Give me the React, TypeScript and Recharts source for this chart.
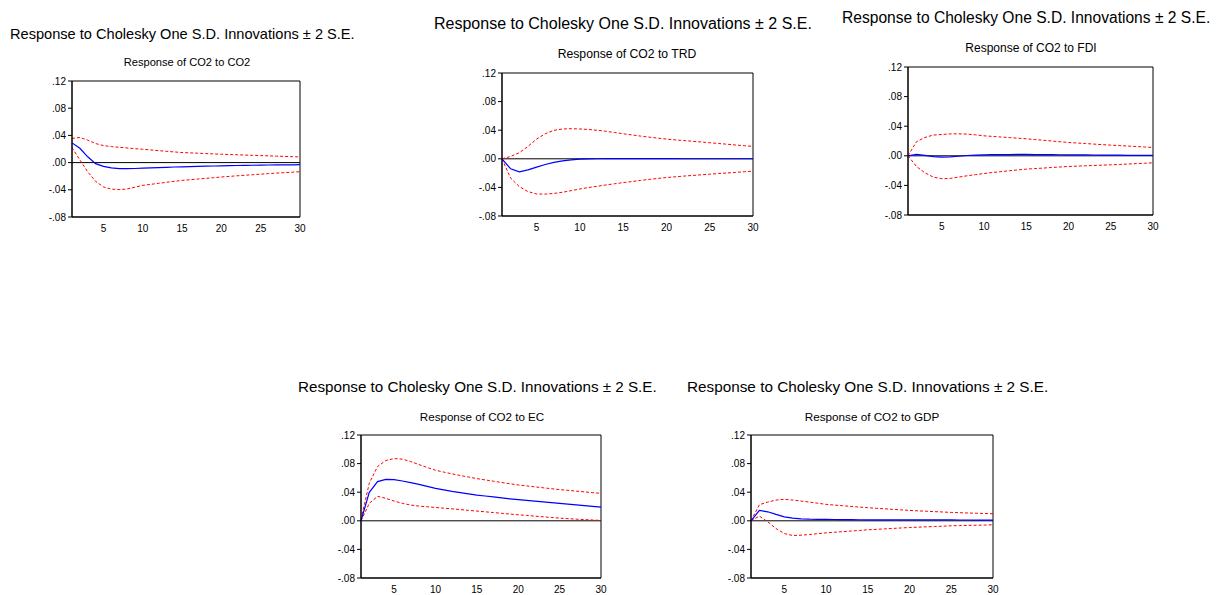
import React from 'react';
import { LineChart, Line, XAxis, YAxis, ReferenceLine, ReferenceArea } from 'recharts';

const periods = Array.from({ length: 30 }, (_, i) => i + 1);
const xTicks = [5, 10, 15, 20, 25, 30];
const yTicks = [-0.08, -0.04, 0, 0.04, 0.08, 0.12];
const mainTitle = 'Response to Cholesky One S.D. Innovations \u00b1 2 S.E.';

// Response of CO2 to CO2
const co2Resp = [0.029, 0.021, 0.0085, -0.0015, -0.0055, -0.0078, -0.0088, -0.009, -0.0087, -0.0082, -0.0078, -0.0073, -0.0069, -0.0065, -0.0062, -0.0059, -0.0056, -0.0053, -0.005, -0.0047, -0.0045, -0.0043, -0.0041, -0.0039, -0.0037, -0.0035, -0.0034, -0.0033, -0.0032, -0.0031];
const co2Up = [0.0355, 0.037, 0.033, 0.028, 0.025, 0.0235, 0.0225, 0.0215, 0.0205, 0.0196, 0.0186, 0.0176, 0.0166, 0.0157, 0.0148, 0.0143, 0.0138, 0.0133, 0.0128, 0.0123, 0.0119, 0.0115, 0.0111, 0.0107, 0.0103, 0.0099, 0.0095, 0.0091, 0.0087, 0.0083];
const co2Lo = [0.022, 0.004, -0.0135, -0.0275, -0.0358, -0.039, -0.0397, -0.0388, -0.0362, -0.0335, -0.032, -0.0305, -0.029, -0.0275, -0.0262, -0.0252, -0.0242, -0.0232, -0.0222, -0.0212, -0.0203, -0.0194, -0.0186, -0.0178, -0.017, -0.0162, -0.0155, -0.0148, -0.0141, -0.0134];

// Response of CO2 to TRD
const trdResp = [0, -0.014, -0.0183, -0.0155, -0.0117, -0.008, -0.005, -0.0028, -0.0014, -0.0005, -0.0001, 0.0001, 0.0002, 0.0002, 0.0002, 0.0002, 0.0002, 0.0002, 0.0002, 0.0002, 0.0002, 0.0001, 0.0001, 0.0001, 0.0001, 0.0001, 0.0001, 0.0001, 0.0001, 0.0001];
const trdUp = [0, 0.0033, 0.0085, 0.0173, 0.0276, 0.035, 0.0398, 0.0417, 0.0421, 0.0417, 0.041, 0.0399, 0.0385, 0.0368, 0.035, 0.0334, 0.0318, 0.0303, 0.0289, 0.0276, 0.0265, 0.0255, 0.0245, 0.0235, 0.0225, 0.0214, 0.0204, 0.0193, 0.0183, 0.0173];
const trdLo = [0, -0.027, -0.0389, -0.0459, -0.0492, -0.0494, -0.0484, -0.0468, -0.0445, -0.0422, -0.0402, -0.0384, -0.0366, -0.0349, -0.0333, -0.0318, -0.0303, -0.0288, -0.0275, -0.0262, -0.0252, -0.0242, -0.0233, -0.0224, -0.0215, -0.0206, -0.0198, -0.019, -0.0181, -0.0173];

// Response of CO2 to FDI
const fdiResp = [0, 0.002, 0.0005, -0.0012, -0.0018, -0.0014, -0.0006, 0.0004, 0.001, 0.0013, 0.0015, 0.0016, 0.0017, 0.0018, 0.0018, 0.0017, 0.0016, 0.0015, 0.0014, 0.0013, 0.0012, 0.0012, 0.0011, 0.001, 0.0009, 0.0008, 0.0007, 0.0007, 0.0006, 0.0005];
const fdiUp = [0, 0.019, 0.0248, 0.028, 0.0288, 0.0296, 0.0297, 0.0293, 0.0283, 0.027, 0.0262, 0.0254, 0.0246, 0.0238, 0.023, 0.022, 0.021, 0.02, 0.019, 0.018, 0.0173, 0.0166, 0.0158, 0.0151, 0.0144, 0.0138, 0.0132, 0.0126, 0.0119, 0.0113];
const fdiLo = [0, -0.0144, -0.023, -0.0288, -0.031, -0.0306, -0.0288, -0.027, -0.0254, -0.0239, -0.0226, -0.0214, -0.0202, -0.0191, -0.018, -0.0173, -0.0166, -0.0158, -0.0151, -0.0144, -0.014, -0.0135, -0.0131, -0.0126, -0.0122, -0.0117, -0.0112, -0.0106, -0.0101, -0.0095];

// Response of CO2 to EC
const ecResp = [0, 0.0398, 0.0548, 0.058, 0.0576, 0.0557, 0.0534, 0.051, 0.0482, 0.0454, 0.0433, 0.0412, 0.0394, 0.0377, 0.036, 0.0347, 0.0334, 0.032, 0.0307, 0.0295, 0.0285, 0.0275, 0.0264, 0.0254, 0.0244, 0.0234, 0.0223, 0.0213, 0.0202, 0.0192];
const ecUp = [0.002, 0.0525, 0.0759, 0.0843, 0.0871, 0.0862, 0.0829, 0.0787, 0.0745, 0.0707, 0.0681, 0.0656, 0.0634, 0.0612, 0.059, 0.0572, 0.0554, 0.0536, 0.0518, 0.0501, 0.0488, 0.0475, 0.0462, 0.0449, 0.0436, 0.0426, 0.0415, 0.0405, 0.0394, 0.0384];
const ecLo = [0, 0.0244, 0.0342, 0.0314, 0.0276, 0.0244, 0.022, 0.0206, 0.0196, 0.0187, 0.0177, 0.0167, 0.0157, 0.0146, 0.0136, 0.0126, 0.0115, 0.0105, 0.0094, 0.0084, 0.0075, 0.0065, 0.0056, 0.0046, 0.0037, 0.003, 0.0023, 0.0017, 0.0011, 0.0005];

// Response of CO2 to GDP
const gdpResp = [0, 0.0145, 0.0126, 0.0089, 0.0056, 0.0037, 0.0028, 0.0023, 0.0021, 0.0019, 0.0018, 0.0017, 0.0016, 0.0015, 0.0014, 0.0014, 0.0014, 0.0014, 0.0014, 0.0014, 0.0013, 0.0013, 0.0013, 0.0012, 0.0012, 0.0011, 0.0011, 0.001, 0.001, 0.0009];
const gdpUp = [0, 0.0225, 0.0262, 0.029, 0.03, 0.029, 0.0276, 0.0262, 0.0246, 0.023, 0.022, 0.0211, 0.0201, 0.0192, 0.0183, 0.0175, 0.0168, 0.016, 0.0153, 0.0145, 0.0139, 0.0134, 0.0128, 0.0123, 0.0117, 0.0113, 0.0109, 0.0106, 0.0102, 0.0098];
const gdpLo = [0, 0.0066, -0.0014, -0.0108, -0.0178, -0.0206, -0.0201, -0.0192, -0.018, -0.0169, -0.016, -0.0152, -0.0143, -0.0135, -0.0126, -0.012, -0.0113, -0.0107, -0.01, -0.0094, -0.0089, -0.0084, -0.008, -0.0075, -0.007, -0.0067, -0.0064, -0.0062, -0.0059, -0.0056];

const build = (resp: number[], up: number[], lo: number[]) =>
  periods.map((p, i) => ({ period: p, resp: resp[i], up: up[i], lo: lo[i] }));

type PanelDef = {
  sub: string;
  data: any[];
  left: number; top: number; right: number; bottom: number;
  titleX: number; titleY: number; titleSize: number;
  subX: number; subY: number; subSize: number;
};

const panels: PanelDef[] = [
  { sub: 'Response of CO2 to CO2', data: build(co2Resp, co2Up, co2Lo), left: 72, top: 81, right: 300, bottom: 217, titleX: 10, titleY: 34, titleSize: 14.6, subX: 187, subY: 63, subSize: 11.1 },
  { sub: 'Response of CO2 to TRD', data: build(trdResp, trdUp, trdLo), left: 502, top: 73, right: 753, bottom: 216, titleX: 434, titleY: 24, titleSize: 16, subX: 627, subY: 54, subSize: 12.2 },
  { sub: 'Response of CO2 to FDI', data: build(fdiResp, fdiUp, fdiLo), left: 908, top: 67, right: 1153, bottom: 215, titleX: 842, titleY: 18, titleSize: 15.6, subX: 1031, subY: 48, subSize: 12 },
  { sub: 'Response of CO2 to EC', data: build(ecResp, ecUp, ecLo), left: 361, top: 435, right: 601, bottom: 578, titleX: 298, titleY: 387, titleSize: 15.2, subX: 482, subY: 417, subSize: 11.6 },
  { sub: 'Response of CO2 to GDP', data: build(gdpResp, gdpUp, gdpLo), left: 751, top: 435, right: 993, bottom: 578, titleX: 687, titleY: 387, titleSize: 15.3, subX: 872, subY: 417, subSize: 11.7 },
];

const fmt = (v: number) => {
  const s = Math.abs(v).toFixed(2).replace(/^0/, '');
  return v < -1e-9 ? '-' + s : s;
};

const FONT = '"Liberation Sans", Arial, sans-serif';

function Panel({ p }: { p: PanelDef }) {
  const YW = 40, TOP = 5, XH = 22, RIGHT = 12;
  const w = p.right - p.left;
  const h = p.bottom - p.top;
  return (
    <>
      <div style={{ position: 'absolute', left: p.titleX, top: p.titleY, transform: 'translateY(-50%)', fontSize: p.titleSize, whiteSpace: 'nowrap', color: '#000', lineHeight: 1 }}>
        {mainTitle}
      </div>
      <div style={{ position: 'absolute', left: p.subX, top: p.subY, transform: 'translate(-50%, -50%)', fontSize: p.subSize, whiteSpace: 'nowrap', color: '#000', lineHeight: 1 }}>
        {p.sub}
      </div>
      <div style={{ position: 'absolute', left: p.left - YW, top: p.top - TOP }}>
        <LineChart width={w + YW + RIGHT} height={h + TOP + XH} data={p.data} margin={{ top: TOP, right: RIGHT, left: 0, bottom: 0 }}>
          <XAxis dataKey="period" type="number" domain={[1, 30]} ticks={xTicks} interval={0} height={XH} tickLine={false} axisLine={{ stroke: '#000' }} tick={{ fontSize: 10, fill: '#000' }} />
          <YAxis type="number" domain={[-0.08, 0.12]} ticks={yTicks} interval={0} width={YW} tickSize={4} tickMargin={2} tickFormatter={fmt} tickLine={{ stroke: '#000' }} axisLine={{ stroke: '#000' }} tick={{ fontSize: 10, fill: '#000' }} />
          <ReferenceLine y={0} stroke="#000" strokeWidth={1} />
          <Line type="linear" dataKey="up" stroke="#ff0000" strokeWidth={1} strokeDasharray="3 2" dot={false} isAnimationActive={false} />
          <Line type="linear" dataKey="lo" stroke="#ff0000" strokeWidth={1} strokeDasharray="3 2" dot={false} isAnimationActive={false} />
          <Line type="linear" dataKey="resp" stroke="#0000ff" strokeWidth={1.2} dot={false} isAnimationActive={false} />
          <ReferenceArea x1={1} x2={30} y1={-0.08} y2={0.12} fill="none" stroke="#000" strokeWidth={1} />
        </LineChart>
      </div>
    </>
  );
}

export default function App() {
  return (
    <div style={{ position: 'absolute', left: 0, top: 0, width: 1220, height: 595, background: '#fff', fontFamily: FONT }}>
      {panels.map((p) => (
        <Panel key={p.sub} p={p} />
      ))}
    </div>
  );
}
